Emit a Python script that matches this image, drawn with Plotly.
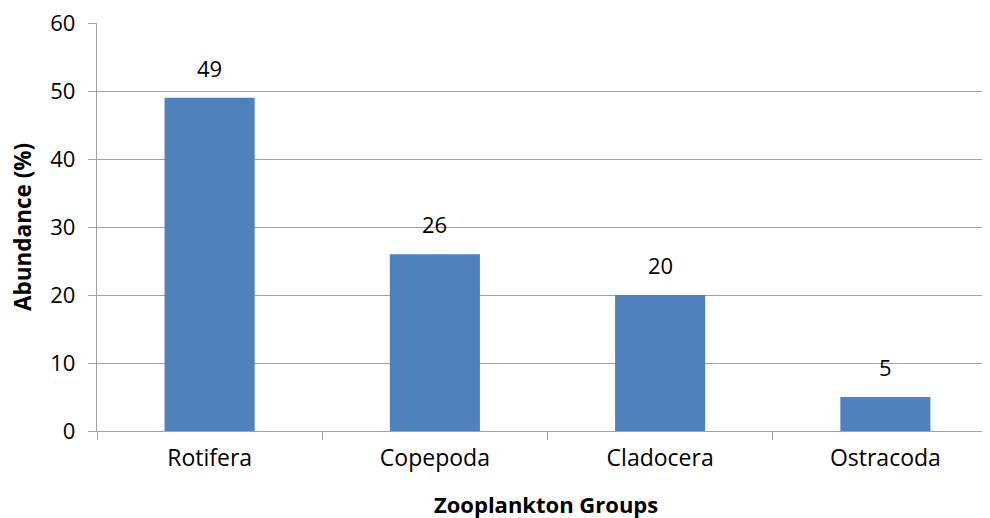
import plotly.graph_objects as go

categories = ["Rotifera", "Copepoda", "Cladocera", "Ostracoda"]
abundance = [49, 26, 20, 5]
y_ticks = [0, 10, 20, 30, 40, 50, 60]

FONT = "Open Sans"
fig = go.Figure()
fig.add_trace(go.Bar(
    x=categories, y=abundance,
    marker=dict(color="#4F81BD", line=dict(width=0)),
    width=0.4,
))
for c, v in zip(categories, abundance):
    fig.add_annotation(x=c, y=v, text=str(v), showarrow=False,
                       yanchor="bottom", yshift=13,
                       font=dict(family=FONT, size=22, color="#000"))

# axis titles
fig.add_annotation(xref="paper", yref="paper", x=(546 - 97) / 901, xanchor="center",
                   y=-(504 - 431) / 408, yanchor="middle", borderpad=0,
                   text="<b>Zooplankton Groups</b>", showarrow=False,
                   font=dict(family=FONT, size=22, color="#000"))
fig.add_annotation(xref="paper", yref="paper", x=-75 / 901, xanchor="center", y=0.5,
                   text="<b>Abundance (%)</b>", showarrow=False, textangle=-90, borderpad=0,
                   font=dict(family=FONT, size=22.5, color="#000"))

fig.update_layout(
    width=990, height=510,
    margin=dict(l=89, r=0, t=15, b=87),
    paper_bgcolor="white", plot_bgcolor="white",
    showlegend=False,
    font=dict(family=FONT, size=22, color="#000"),
)
fig.update_xaxes(
    automargin=False,
    showline=True, linecolor="#a0a0a0", linewidth=1.3,
    ticks="outside", tickson="boundaries", ticklen=8, tickcolor="#a0a0a0",
    showgrid=False,
    tickfont=dict(family=FONT, size=23),
    ticklabelstandoff=6,
)
fig.update_yaxes(
    automargin=False,
    range=[0, 60], tickvals=y_ticks,
    showline=True, linecolor="#a0a0a0", linewidth=1.3,
    ticks="outside", ticklen=8, tickcolor="#a0a0a0",
    showgrid=True, gridcolor="#a0a0a0", gridwidth=1.3,
    zeroline=False,
    tickfont=dict(family=FONT, size=22),
    ticklabelstandoff=8,
    ticklabeloverflow="allow",
)
fig.write_html("out.html")
